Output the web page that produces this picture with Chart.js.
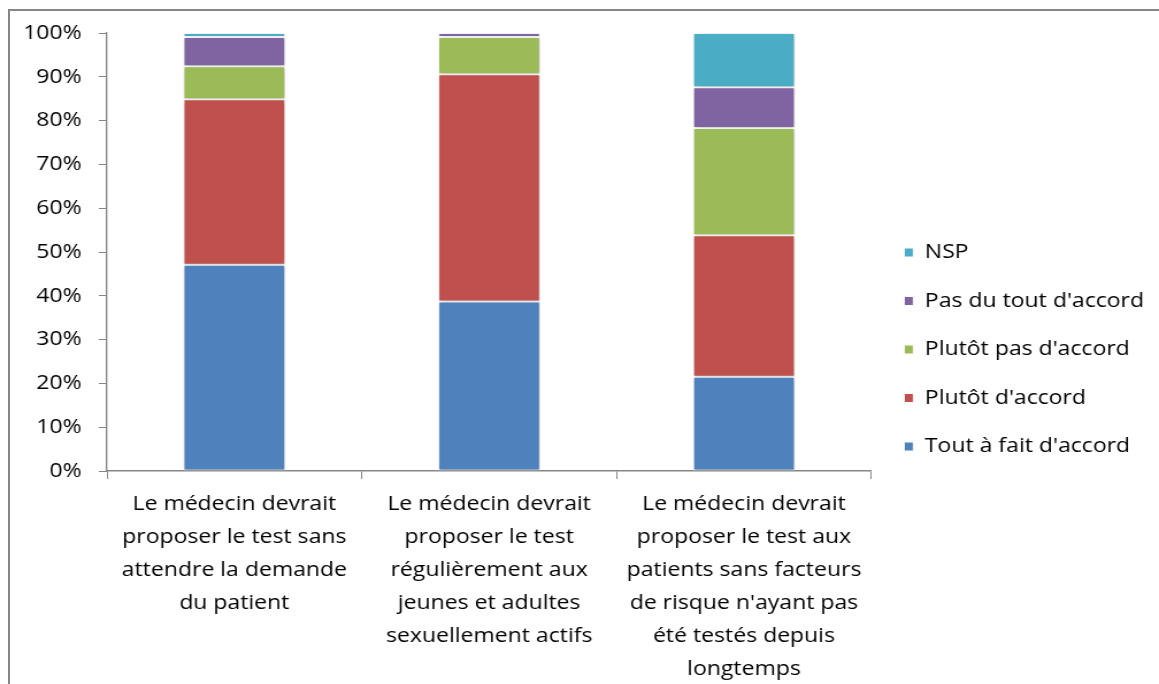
<!DOCTYPE html>
<html lang="fr">
<head>
    <meta charset="UTF-8">
    <title>Proposition du test</title>
    <script src="https://cdn.jsdelivr.net/npm/chart.js"></script>
    <style>
        body {
            margin: 0;
            padding: 0;
            background: #fff;
            overflow: hidden;
        }
        .wrap {
            position: relative;
            width: 1159px;
            height: 684px;
            overflow: hidden;
        }
        .frame {
            position: absolute;
            left: 8px;
            top: 9px;
            width: 1200px;
            height: 800px;
            border-top: 2px solid #868686;
            border-left: 2px solid #868686;
        }
        /* the original picture is a little stretched sideways */
        canvas {
            position: absolute;
            left: 0;
            top: 0;
            transform: scaleX(1.1498);
            transform-origin: 0 0;
        }
    </style>
</head>
<body>
    <div class="wrap">
        <div class="frame"></div>
        <canvas id="chart" width="1008" height="684"></canvas>
    </div>

    <script>
        // categories (multi-line labels)
        const categories = [
            ['Le médecin devrait', 'proposer le test sans', 'attendre la demande', 'du patient'],
            ['Le médecin devrait', 'proposer le test', 'régulièrement aux', 'jeunes et adultes', 'sexuellement actifs'],
            ['Le médecin devrait', 'proposer le test aux', 'patients sans facteurs', 'de risque n\'ayant pas', 'été testés depuis', 'longtemps']
        ];

        // series values, in %
        const toutAFait = [47.1, 38.7, 21.5];
        const plutotAccord = [37.8, 51.9, 32.3];
        const plutotPas = [7.5, 8.5, 24.5];
        const pasDuTout = [6.7, 0.9, 9.3];
        const nsp = [0.9, 0, 12.4];

        const yTicks = [0, 10, 20, 30, 40, 50, 60, 70, 80, 90, 100];

        const font = "'Open Sans', 'Noto Sans', sans-serif";
        const axisColor = '#868686';

        const makeSet = (label, data, color) => ({
            label: label,
            data: data,
            backgroundColor: color,
            borderColor: '#ffffff',
            borderWidth: 1,
            borderSkipped: false,
            barPercentage: 0.4,
            categoryPercentage: 1.0
        });

        // soft shadow around the bars, like the office chart
        const barShadow = {
            id: 'barShadow',
            beforeDatasetsDraw(chart) {
                const c = chart.ctx;
                c.save();
                c.shadowColor = 'rgba(0,0,0,0.25)';
                c.shadowBlur = 4;
                c.shadowOffsetX = 1;
                c.shadowOffsetY = 1;
            },
            afterDatasetsDraw(chart) {
                chart.ctx.restore();
            }
        };

        const ctx = document.getElementById('chart').getContext('2d');
        new Chart(ctx, {
            type: 'bar',
            data: {
                labels: categories,
                datasets: [
                    makeSet('Tout à fait d\'accord', toutAFait, '#4F81BD'),
                    makeSet('Plutôt d\'accord', plutotAccord, '#C0504D'),
                    makeSet('Plutôt pas d\'accord', plutotPas, '#9BBB59'),
                    makeSet('Pas du tout d\'accord', pasDuTout, '#8064A2'),
                    makeSet('NSP', nsp, '#4BACC6')
                ]
            },
            plugins: [barShadow],
            options: {
                responsive: false,
                animation: false,
                layout: {
                    padding: { top: 15, bottom: 0, left: 0, right: 3 }
                },
                plugins: {
                    tooltip: { enabled: false },
                    // empty spacer above the plot only, so the legend stays centred lower
                    title: {
                        display: true,
                        fullSize: false,
                        text: ' ',
                        padding: 0,
                        font: { size: 10, lineHeight: 1.8 }
                    },
                    legend: {
                        position: 'right',
                        reverse: true,
                        labels: {
                            boxWidth: 8,
                            boxHeight: 9,
                            padding: 28.5,
                            color: '#000',
                            font: { family: font, size: 20 }
                        }
                    }
                },
                scales: {
                    x: {
                        stacked: true,
                        grid: {
                            offset: true,
                            drawOnChartArea: false,
                            drawTicks: true,
                            tickLength: 8,
                            color: axisColor
                        },
                        border: { color: axisColor, width: 1.5 },
                        ticks: {
                            autoSkip: false,
                            maxRotation: 0,
                            padding: 9,
                            color: '#000',
                            font: { family: font, size: 20, lineHeight: 1.65 }
                        },
                        afterFit: (scale) => { scale.height = 213; }
                    },
                    y: {
                        stacked: true,
                        min: 0,
                        max: 100,
                        afterBuildTicks: (scale) => {
                            scale.ticks = yTicks.map(v => ({ value: v }));
                        },
                        grid: {
                            drawOnChartArea: false,
                            drawTicks: true,
                            tickLength: 7,
                            color: axisColor
                        },
                        border: { color: axisColor, width: 1.3 },
                        ticks: {
                            padding: 15,
                            color: '#000',
                            font: { family: font, size: 20 },
                            callback: (v) => v + '%'
                        },
                        afterFit: (scale) => { scale.width = 93; }
                    }
                }
            }
        });
    </script>
</body>
</html>
